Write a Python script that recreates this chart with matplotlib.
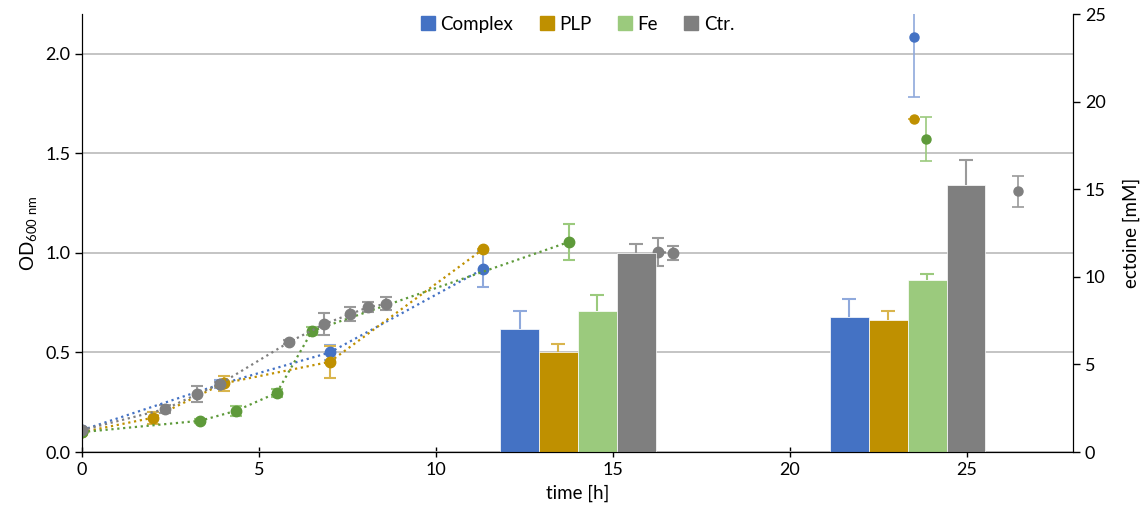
import numpy as np
import matplotlib.pyplot as plt
from matplotlib.patches import Patch

plt.rcParams['font.family'] = ['Lato', 'DejaVu Sans']
plt.rcParams['mathtext.fontset'] = 'custom'
plt.rcParams['mathtext.rm'] = 'Lato'

# OD600 growth curves (time [h], OD, error)
cplx_t = [0, 3.9, 7.0, 11.34]
cplx_od = [0.11, 0.34, 0.50, 0.92]
cplx_err = [0.01, 0.02, 0.04, 0.09]

plp_t = [0, 2.0, 4.0, 7.0, 11.34]
plp_od = [0.10, 0.172, 0.345, 0.453, 1.02]
plp_err = [0.01, 0.03, 0.038, 0.08, 0.0]

fe_t = [0, 3.34, 4.35, 5.5, 6.5, 13.75]
fe_od = [0.10, 0.157, 0.207, 0.297, 0.608, 1.055]
fe_err = [0.01, 0.01, 0.025, 0.02, 0.02, 0.088]

ctr_t = [0, 2.35, 3.25, 3.9, 5.86, 6.85, 7.58, 8.09, 8.6, np.nan, 16.27, 16.69]
ctr_od = [0.11, 0.216, 0.29, 0.342, 0.553, 0.643, 0.693, 0.728, 0.744, np.nan, 1.005, 1.0]
ctr_err = [0.01, 0.02, 0.04, 0.01, 0.01, 0.054, 0.035, 0.026, 0.033, np.nan, 0.07, 0.037]

# late single OD points
late_t = [23.5, 23.5, 23.85, 26.44]
late_od = [2.085, 1.673, 1.573, 1.31]
late_err = [0.30, 0.0, 0.11, 0.077]

# ectoine bars [mM]
bar_times = [14.01, 23.33]
ect_cplx = [7.02, 7.70]
ect_plp = [5.69, 7.56]
ect_fe = [8.07, 9.83]
ect_ctr = [11.35, 15.24]
ect_cplx_err = [1.05, 1.05]
ect_plp_err = [0.46, 0.49]
ect_fe_err = [0.89, 0.34]
ect_ctr_err = [0.53, 1.43]

names = ['Complex', 'PLP', 'Fe', 'Ctr.']
bar_cols = ['#4472C4', '#BF9000', '#9BCA7D', '#7F7F7F']
line_cols = ['#4472C4', '#BF9000', '#5E9A3A', '#7F7F7F']
err_cols = ['#8FA9DC', '#D9B54D', '#9BCA7D', '#9A9A9A']

fig = plt.figure(figsize=(11.46, 5.14), dpi=100)
ax = fig.add_axes([0.0716, 0.1206, 0.8647, 0.852])
ax2 = ax.twinx()

series = [(cplx_t, cplx_od, cplx_err), (plp_t, plp_od, plp_err),
          (fe_t, fe_od, fe_err), (ctr_t, ctr_od, ctr_err)]
for i, (t, od, e) in enumerate(series):
    ax.errorbar(t, od, yerr=e, color=line_cols[i], ecolor=err_cols[i], elinewidth=1.5,
                capsize=4, capthick=1.5, linestyle=':', linewidth=1.6,
                marker='o', markersize=7.5, zorder=3)
for i in range(4):
    ax.errorbar(late_t[i], late_od[i], yerr=late_err[i], color=line_cols[i],
                ecolor=err_cols[i], elinewidth=1.2, capsize=4, capthick=1.2,
                marker='o', markersize=6.5, linestyle='none', zorder=3)

w = 1.097
bars = [ect_cplx, ect_plp, ect_fe, ect_ctr]
errs = [ect_cplx_err, ect_plp_err, ect_fe_err, ect_ctr_err]
for i in range(4):
    x = np.array(bar_times) + (i - 1.5) * w
    bc = ax2.bar(x, bars[i], width=w, color=bar_cols[i], edgecolor='white', linewidth=0.5,
                 yerr=[np.zeros(len(errs[i])), errs[i]], ecolor=err_cols[i], capsize=5,
                 error_kw=dict(elinewidth=1.5, capthick=1.5), zorder=2)
    # only the upper half of the error bar, like the original
    caps = bc.errorbar.lines[1]
    caps[0].set_visible(False)

ax.set_xlim(0, 28)
ax.set_ylim(0, 2.2)
ax2.set_ylim(0, 25)
ax.set_xticks([0, 5, 10, 15, 20, 25])
ax.set_yticks([0, 0.5, 1.0, 1.5, 2.0])
ax.set_yticklabels(['0.0', '0.5', '1.0', '1.5', '2.0'])
ax2.set_yticks([0, 5, 10, 15, 20, 25])

ax.grid(axis='y', color='#BFBFBF', linewidth=1.3)
ax.set_axisbelow(True)
for a in (ax, ax2):
    a.spines['top'].set_visible(False)
    a.tick_params(labelsize=13, width=1, length=5)
ax.tick_params(axis='x', direction='inout', length=7)

ax.set_xlabel('time [h]', fontsize=13.5, labelpad=5)
ax.set_ylabel(r'OD$_{\mathregular{600\ nm}}$', fontsize=13.5, labelpad=4)
ax2.set_ylabel('ectoine [mM]', fontsize=13.5, labelpad=12)

handles = [Patch(color=c) for c in bar_cols]
ax.legend(handles, names, loc='upper center', bbox_to_anchor=(0.5, 1.035), ncol=4,
          frameon=False, fontsize=13.5, handlelength=0.75, handleheight=0.75,
          handletextpad=0.3, columnspacing=1.4)

fig.savefig('out.png', dpi=100)
